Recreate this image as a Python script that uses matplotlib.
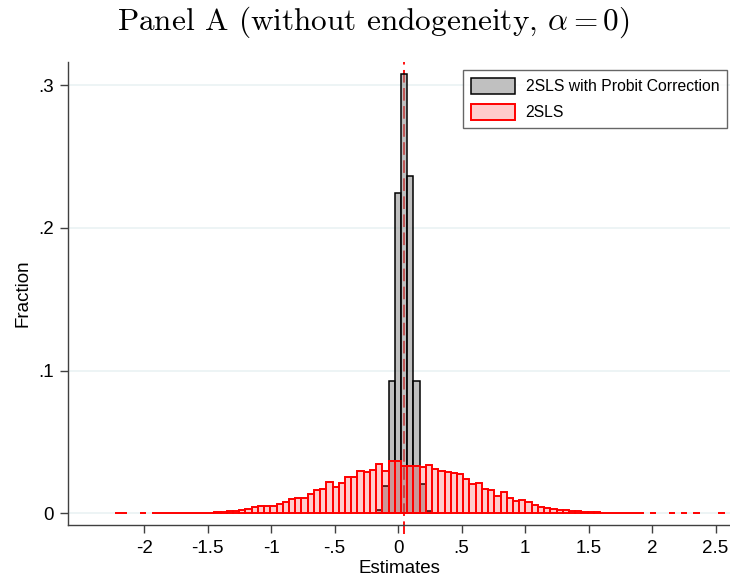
import numpy as np
import matplotlib.pyplot as plt

plt.rcParams['mathtext.fontset'] = 'cm'
plt.rcParams['font.family'] = ['Liberation Sans', 'DejaVu Sans']

# Histogram bins (shared by both series)
bin_width = 0.049
center_bin = 0.0474          # centre of bin k = 0
true_value = 0.047           # dashed reference line

# 2SLS with Probit Correction: fractions for bins k = -4 .. 5
gray_k = list(range(-4, 6))
gray_frac = [0.0021, 0.0188, 0.0927, 0.2247, 0.3076, 0.2364, 0.0927, 0.0206, 0.0016, 0.0005]

# 2SLS: fractions for bins k = -46 .. 51
red_k = list(range(-46, 52))
red_frac = [
    0.0001, 0.0001, 0.0, 0.0, 0.0001, 0.0, 0.0001, 0.0001, 0.0001, 0.0001,   # -46..-37
    0.0002, 0.0002, 0.0002, 0.0003, 0.0004, 0.0005, 0.0007, 0.0010, 0.0015, 0.0019,  # -36..-27
    0.0022, 0.0030, 0.0042, 0.0053, 0.0051, 0.0053, 0.0062, 0.0079, 0.0098, 0.0110,  # -26..-17
    0.0110, 0.0137, 0.0160, 0.0173, 0.0222, 0.0185, 0.0213, 0.0256, 0.0253, 0.0293,  # -16..-7
    0.0290, 0.0304, 0.0346, 0.0298, 0.0365, 0.0368, 0.0328, 0.0328, 0.0332, 0.0325,  # -6..3
    0.0341, 0.0307, 0.0298, 0.0286, 0.0280, 0.0278, 0.0243, 0.0208, 0.0214, 0.0167,  # 4..13
    0.0165, 0.0124, 0.0147, 0.0110, 0.0085, 0.0092, 0.0078, 0.0056, 0.0045, 0.0037,  # 14..23
    0.0032, 0.0026, 0.0021, 0.0016, 0.0013, 0.0010, 0.0008, 0.0006, 0.0005, 0.0004,  # 24..33
    0.0003, 0.0002, 0.0001, 0.0001, 0.0001, 0.0, 0.0001, 0.0, 0.0, 0.0001,   # 34..43
    0.0, 0.0001, 0.0, 0.0001, 0.0, 0.0, 0.0, 0.0001,                         # 44..51
]

x_ticks = [-2, -1.5, -1, -0.5, 0, 0.5, 1, 1.5, 2, 2.5]
x_tick_labels = ['-2', '-1.5', '-1', '-.5', '0', '.5', '1', '1.5', '2', '2.5']
y_ticks = [0, 0.1, 0.2, 0.3]
y_tick_labels = ['0', '.1', '.2', '.3']

gray_x = center_bin + np.array(gray_k) * bin_width
red_x = center_bin + np.array(red_k) * bin_width
red_frac = np.array(red_frac)
keep = red_frac > 0

fig = plt.figure(figsize=(7.3, 5.79), dpi=100)
ax = fig.add_axes([68 / 730, 1 - 525 / 579, (730 - 68) / 730, (525 - 61.7) / 579])

# reference line sits under the bars, so it shows faded through them
ax.axvline(true_value, ymin=-0.02, ymax=1, color='red', lw=1.3,
           dashes=(7, 3), clip_on=False, zorder=1.5)

ax.bar(gray_x, gray_frac, width=bin_width, color=(0.55, 0.55, 0.55, 0.55),
       edgecolor='black', linewidth=1.1, zorder=2,
       label='2SLS with Probit Correction')
ax.bar(red_x[keep], red_frac[keep], width=bin_width, color=(1, 0, 0, 0.2),
       edgecolor='red', linewidth=1.4, zorder=3, label='2SLS')

ax.set_xlim(-2.6, 2.614)
ax.set_ylim(-0.0082, 0.3165)
ax.set_xticks(x_ticks)
ax.set_xticklabels(x_tick_labels)
ax.set_yticks(y_ticks)
ax.set_yticklabels(y_tick_labels)
ax.tick_params(labelsize=13.5, length=6, width=1, color='#404040', pad=4)
ax.tick_params(axis='x', pad=5)

ax.yaxis.grid(True, color='#eaf2f3', lw=1.2)
ax.set_axisbelow(True)
for side in ['top', 'right']:
    ax.spines[side].set_visible(False)
for side in ['left', 'bottom']:
    ax.spines[side].set_color('#404040')
    ax.spines[side].set_linewidth(1)

ax.set_xlabel('Estimates', fontsize=13.5, labelpad=2)
ax.set_ylabel('Fraction', fontsize=13.5, labelpad=5)

leg = ax.legend(loc='upper right', bbox_to_anchor=(0.9955, 0.982), borderaxespad=0,
                fontsize=11.3, frameon=True, fancybox=False, handlelength=2.8,
                handleheight=1.25, borderpad=0.5, labelspacing=0.6, handletextpad=0.7)
leg.get_frame().set_edgecolor('#404040')
leg.get_frame().set_linewidth(1)
leg.legend_handles[0].set_facecolor('#c0c0c0')
leg.legend_handles[1].set_facecolor('#ffcccc')

fig.text(0.511, 0.962, r'Panel A (without endogeneity, $\alpha = 0$)',
         family='cmr10', fontsize=22.5, ha='center', va='center')

fig.savefig('out.png', dpi=100)
